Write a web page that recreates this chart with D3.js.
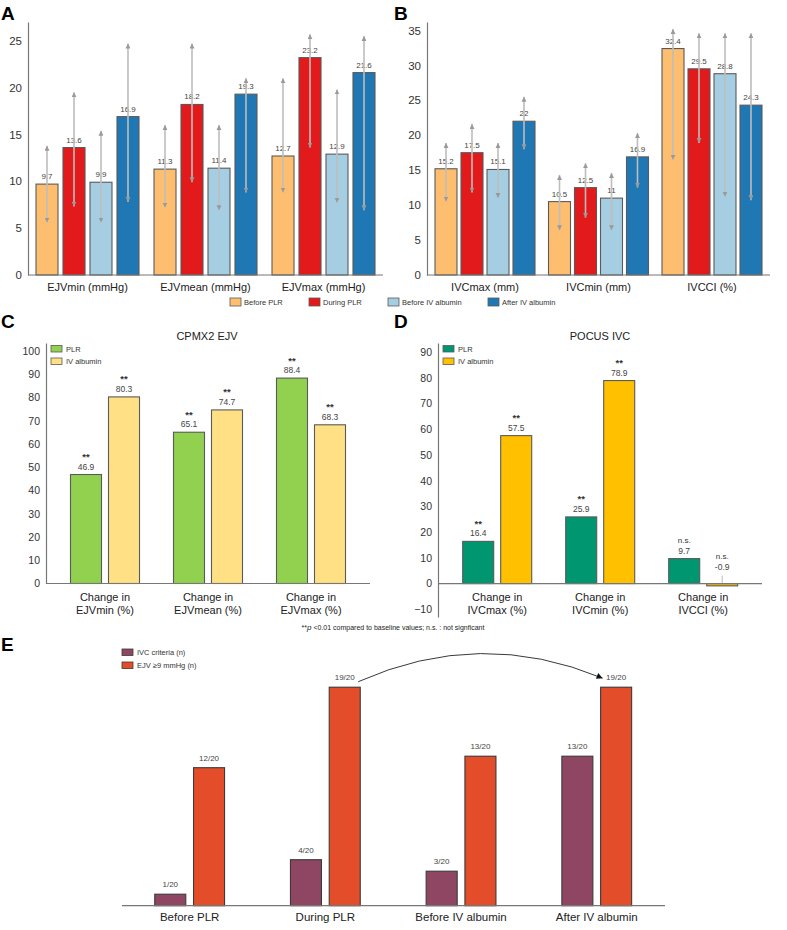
<!DOCTYPE html>
<html lang="en">
<head>
<meta charset="UTF-8">
<title>EJV and IVC measurements</title>
<script src="https://d3js.org/d3.v7.min.js"></script>
<style>
  body { margin: 0; background: #fff; }
  svg text { font-family: "Liberation Sans", Arial, sans-serif; }
</style>
</head>
<body>
<div id="chart"></div>
<script>
// ---- data ----
const abSeries = ["Before PLR", "During PLR", "Before IV albumin", "After IV albumin"];
const abColors = ["#fdbf6f", "#e31a1c", "#a6cee3", "#1f78b4"];

// Panel A: EJV (mmHg)
const aCats = ["EJVmin (mmHg)", "EJVmean (mmHg)", "EJVmax (mmHg)"];
const aMeans = [[9.7, 13.6, 9.9, 16.9], [11.3, 18.2, 11.4, 19.3], [12.7, 23.2, 12.9, 21.6]];
const aLow = [[5.6, 7.3, 5.6, 7.8], [7.2, 9.9, 6.9, 8.8], [8.8, 13.6, 7.7, 6.9]];
const aHigh = [[13.8, 19.5, 15.4, 24.7], [16.0, 24.7, 16.0, 21.0], [21.0, 25.7, 19.8, 25.5]];
const aTicks = [0, 5, 10, 15, 20, 25];

// Panel B: IVC
const bCats = ["IVCmax (mm)", "IVCmin (mm)", "IVCCI (%)"];
const bMeans = [[15.2, 17.5, 15.1, 22], [10.5, 12.5, 11, 16.9], [32.4, 29.5, 28.8, 24.3]];
const bLow = [[10.5, 11.8, 11.0, 18.0], [6.4, 8.2, 6.4, 12.5], [16.5, 18.9, 11.2, 10.7]];
const bHigh = [[18.9, 21.6, 18.9, 25.5], [14.3, 16.0, 14.6, 20.3], [35.2, 34.6, 34.6, 34.6]];
const bTicks = [0, 5, 10, 15, 20, 25, 30, 35];

// Panel C / D: change in %
const cdSeries = ["PLR", "IV albumin"];
const cCats = [["Change in", "EJVmin (%)"], ["Change in", "EJVmean (%)"], ["Change in", "EJVmax (%)"]];
const cValues = [[46.9, 80.3], [65.1, 74.7], [88.4, 68.3]];
const cSig = [["**", "**"], ["**", "**"], ["**", "**"]];
const cColors = ["#92d050", "#ffe084"];
const cTicks = d3.range(0, 101, 10);

const dCats = [["Change in", "IVCmax (%)"], ["Change in", "IVCmin (%)"], ["Change in", "IVCCI (%)"]];
const dValues = [[16.4, 57.5], [25.9, 78.9], [9.7, -0.9]];
const dSig = [["**", "**"], ["**", "**"], ["n.s.", "n.s."]];
const dColors = ["#009670", "#ffc000"];
const dTicks = d3.range(-10, 91, 10);

// Panel E: counts out of 20
const eCats = ["Before PLR", "During PLR", "Before IV albumin", "After IV albumin"];
const eSeries = ["IVC criteria (n)", "EJV \u22659 mmHg (n)"];
const eCounts = [[1, 12], [4, 19], [3, 13], [13, 19]];
const eColors = ["#8e4663", "#e34d2a"];

// ---- canvas ----
const svg = d3.select("#chart").append("svg")
    .attr("width", 787)
    .attr("height", 930);

const defs = svg.append("defs");
defs.append("marker")
    .attr("id", "errHead")
    .attr("viewBox", "0 0 10 10")
    .attr("refX", 10).attr("refY", 5)
    .attr("markerUnits", "userSpaceOnUse")
    .attr("markerWidth", 5).attr("markerHeight", 5)
    .attr("orient", "auto-start-reverse")
  .append("path")
    .attr("d", "M0,0L10,5L0,10z")
    .attr("fill", "#9a9a9a");
defs.append("marker")
    .attr("id", "curveHead")
    .attr("viewBox", "0 0 10 10")
    .attr("refX", 10).attr("refY", 5)
    .attr("markerUnits", "userSpaceOnUse")
    .attr("markerWidth", 7).attr("markerHeight", 6)
    .attr("orient", "auto")
  .append("path")
    .attr("d", "M0,0L10,5L0,10z")
    .attr("fill", "#111");

function panelLetter(letter, x, y) {
  svg.append("text")
      .attr("x", x).attr("y", y)
      .attr("font-size", 19)
      .attr("font-weight", "bold")
      .attr("fill", "#000")
      .text(letter);
}

function yAxis(y, ticks, x, fs) {
  const g = svg.append("g")
      .attr("transform", `translate(${x},0)`)
      .call(d3.axisLeft(y).tickValues(ticks).tickSize(0).tickPadding(6).tickSizeOuter(0));
  g.select(".domain").attr("stroke", "#777").attr("stroke-width", 1.2);
  g.selectAll("text").attr("font-size", fs).attr("fill", "#333");
  return g;
}

function hLine(x1, x2, yv) {
  svg.append("line")
      .attr("x1", x1).attr("x2", x2)
      .attr("y1", yv).attr("y2", yv)
      .attr("stroke", "#777").attr("stroke-width", 1.2);
}

// ---- Panel A and B: grouped bars with range arrows ----
function panelAB(cats, means, low, high, y, xRange, inner, outer) {
  const x0 = d3.scaleBand().domain(cats).range(xRange).padding(0);
  const x1 = d3.scaleBand().domain(abSeries).range([0, x0.bandwidth()])
      .paddingInner(inner).paddingOuter(outer);

  cats.forEach((c, ci) => {
    const g = svg.append("g").attr("transform", `translate(${x0(c)},0)`);
    const rows = abSeries.map((s, si) => ({s, si, v: means[ci][si], lo: low[ci][si], hi: high[ci][si]}));

    g.selectAll("rect").data(rows).join("rect")
        .attr("x", d => x1(d.s))
        .attr("y", d => y(d.v))
        .attr("width", x1.bandwidth())
        .attr("height", d => y(0) - y(d.v))
        .attr("fill", d => abColors[d.si])
        .attr("stroke", "#5a5a5a")
        .attr("stroke-width", 1.1);

    g.selectAll("text.val").data(rows).join("text")
        .attr("class", "val")
        .attr("x", d => x1(d.s) + x1.bandwidth() / 2)
        .attr("y", d => y(d.v) - 5)
        .attr("text-anchor", "middle")
        .attr("font-size", 8)
        .attr("fill", "#444")
        .text(d => d.v);

    g.selectAll("line.err").data(rows).join("line")
        .attr("class", "err")
        .attr("x1", d => x1(d.s) + x1.bandwidth() / 2)
        .attr("x2", d => x1(d.s) + x1.bandwidth() / 2)
        .attr("y1", d => y(d.lo))
        .attr("y2", d => y(d.hi))
        .attr("stroke", "#bdbdbd")
        .attr("stroke-width", 1.6)
        .attr("marker-start", "url(#errHead)")
        .attr("marker-end", "url(#errHead)");

    svg.append("text")
        .attr("x", x0(c) + x0.bandwidth() / 2)
        .attr("y", y(0) + 16)
        .attr("text-anchor", "middle")
        .attr("font-size", 11)
        .attr("fill", "#222")
        .text(c);
  });
}

const yA = d3.scaleLinear().domain([0, 27]).range([275, 22]);
panelLetter("A", 1, 20);
yAxis(yA, aTicks, 28, 11.5);
panelAB(aCats, aMeans, aLow, aHigh, yA, [28.5, 382.5], 0.185, 0.278);
hLine(28, 383, yA(0));

const yB = d3.scaleLinear().domain([0, 36.2]).range([275, 22]);
panelLetter("B", 394, 20);
yAxis(yB, bTicks, 427, 11.5);
panelAB(bCats, bMeans, bLow, bHigh, yB, [428.25, 768.75], 0.154, 0.26);
hLine(427, 770, yB(0));

// shared legend for A/B
const abLegX = [230, 309, 388, 488];
abSeries.forEach((s, i) => {
  svg.append("rect")
      .attr("x", abLegX[i]).attr("y", 298)
      .attr("width", 11).attr("height", 8)
      .attr("fill", abColors[i])
      .attr("stroke", "#5a5a5a").attr("stroke-width", 0.8);
  svg.append("text")
      .attr("x", abLegX[i] + 14).attr("y", 305)
      .attr("font-size", 7.5)
      .attr("fill", "#333")
      .text(s);
});

// ---- Panel C and D: percent change ----
function panelCD(cats, values, sig, colors, y, xRange, title, titleX) {
  const keys = cats.map(c => c[1]);
  const x0 = d3.scaleBand().domain(keys).range(xRange).padding(0);
  const x1 = d3.scaleBand().domain(cdSeries).range([0, x0.bandwidth()])
      .paddingInner(0.184).paddingOuter(0.447);

  svg.append("text")
      .attr("x", titleX).attr("y", 340)
      .attr("text-anchor", "middle")
      .attr("font-size", 11)
      .attr("fill", "#222")
      .text(title);

  cats.forEach((c, ci) => {
    const g = svg.append("g").attr("transform", `translate(${x0(c[1])},0)`);
    const rows = cdSeries.map((s, si) => ({s, si, v: values[ci][si], sig: sig[ci][si]}));

    g.selectAll("rect").data(rows).join("rect")
        .attr("x", d => x1(d.s))
        .attr("y", d => y(Math.max(0, d.v)))
        .attr("width", x1.bandwidth())
        .attr("height", d => Math.abs(y(d.v) - y(0)))
        .attr("fill", d => colors[d.si])
        .attr("stroke", "#5a5a5a")
        .attr("stroke-width", 1.1);

    // negative values get their label lifted above the baseline with a leader
    const labTop = d => d.v < 0 ? y(0) - 9 : y(d.v);
    g.selectAll("line.lead").data(rows.filter(d => d.v < 0)).join("line")
        .attr("class", "lead")
        .attr("x1", d => x1(d.s) + x1.bandwidth() / 2)
        .attr("x2", d => x1(d.s) + x1.bandwidth() / 2)
        .attr("y1", d => labTop(d) + 1)
        .attr("y2", y(0))
        .attr("stroke", "#aaa").attr("stroke-width", 0.8);

    g.selectAll("text.val").data(rows).join("text")
        .attr("class", "val")
        .attr("x", d => x1(d.s) + x1.bandwidth() / 2)
        .attr("y", d => labTop(d) - 5)
        .attr("text-anchor", "middle")
        .attr("font-size", 8.5)
        .attr("fill", "#444")
        .text(d => d.v);

    g.selectAll("text.sig").data(rows).join("text")
        .attr("class", "sig")
        .attr("x", d => x1(d.s) + x1.bandwidth() / 2)
        .attr("y", d => labTop(d) - (d.sig === "**" ? 14.5 : 15.5))
        .attr("text-anchor", "middle")
        .attr("font-size", d => d.sig === "**" ? 9.5 : 8)
        .attr("font-weight", d => d.sig === "**" ? "bold" : "normal")
        .attr("fill", "#333")
        .text(d => d.sig);

    const t = svg.append("text")
        .attr("x", x0(c[1]) + x0.bandwidth() / 2)
        .attr("y", 601)
        .attr("text-anchor", "middle")
        .attr("font-size", 11)
        .attr("fill", "#222");
    t.append("tspan").attr("x", x0(c[1]) + x0.bandwidth() / 2).text(c[0]);
    t.append("tspan").attr("x", x0(c[1]) + x0.bandwidth() / 2).attr("dy", 12.5).text(c[1]);
  });
}

function cdLegend(x, colors) {
  cdSeries.forEach((s, i) => {
    svg.append("rect")
        .attr("x", x).attr("y", 345.5 + i * 12.5)
        .attr("width", 11).attr("height", 6.5)
        .attr("fill", colors[i])
        .attr("stroke", "#5a5a5a").attr("stroke-width", 0.8);
    svg.append("text")
        .attr("x", x + 15).attr("y", 351.5 + i * 12.5)
        .attr("font-size", 7.5)
        .attr("fill", "#333")
        .text(s);
  });
}

const yC = d3.scaleLinear().domain([0, 103.5]).range([583.5, 343]);
panelLetter("C", 1, 328);
yAxis(yC, cTicks, 46, 10.5);
panelCD(cCats, cValues, cSig, cColors, yC, [53.5, 362.5], "CPMX2 EJV", 207);
hLine(46, 370, yC(0));
cdLegend(51, cColors);

const yD = d3.scaleLinear().domain([-13, 93.5]).range([617, 343]);
panelLetter("D", 394, 328);
yAxis(yD, dTicks, 438, 10.5);
panelCD(dCats, dValues, dSig, dColors, yD, [445.7, 754.7], "POCUS IVC", 600);
hLine(438, 762, yD(0));
cdLegend(443, dColors);

// footnote
const foot = svg.append("text")
    .attr("x", 393).attr("y", 630)
    .attr("text-anchor", "middle")
    .attr("font-size", 7)
    .attr("fill", "#222");
foot.append("tspan").text("**");
foot.append("tspan").attr("font-style", "italic").attr("font-size", 8).text("p");
foot.append("tspan").text(" <0.01 compared to baseline values; n.s. : not signficant");

// ---- Panel E ----
panelLetter("E", 1, 651);
const yE = d3.scaleLinear().domain([0, 20]).range([905.7, 675.7]);
const xE0 = d3.scaleBand().domain(eCats).range([121.8, 664.6]).padding(0);
const xE1 = d3.scaleBand().domain(eSeries).range([0, xE0.bandwidth()])
    .paddingInner(0.2).paddingOuter(0.85);

eCats.forEach((c, ci) => {
  const g = svg.append("g").attr("transform", `translate(${xE0(c)},0)`);
  const rows = eSeries.map((s, si) => ({s, si, v: eCounts[ci][si]}));
  g.selectAll("rect").data(rows).join("rect")
      .attr("x", d => xE1(d.s))
      .attr("y", d => yE(d.v))
      .attr("width", xE1.bandwidth())
      .attr("height", d => yE(0) - yE(d.v))
      .attr("fill", d => eColors[d.si])
      .attr("stroke", "#3a3a3a")
      .attr("stroke-width", 1.1);
  g.selectAll("text").data(rows).join("text")
      .attr("x", d => xE1(d.s) + xE1.bandwidth() / 2)
      .attr("y", d => yE(d.v) - 7)
      .attr("text-anchor", "middle")
      .attr("font-size", 8)
      .attr("fill", "#444")
      .text(d => `${d.v}/20`);
  svg.append("text")
      .attr("x", xE0(c) + xE0.bandwidth() / 2)
      .attr("y", 921)
      .attr("text-anchor", "middle")
      .attr("font-size", 11.5)
      .attr("fill", "#222")
      .text(c);
});
hLine(122, 665, yE(0));

eSeries.forEach((s, i) => {
  svg.append("rect")
      .attr("x", 122).attr("y", 649 + i * 13)
      .attr("width", 11).attr("height", 6.5)
      .attr("fill", eColors[i])
      .attr("stroke", "#3a3a3a").attr("stroke-width", 0.8);
  svg.append("text")
      .attr("x", 137).attr("y", 655 + i * 13)
      .attr("font-size", 7.5)
      .attr("fill", "#333")
      .text(s);
});

// curved arrow from "During PLR" EJV bar to "After IV albumin" EJV bar
const sx = xE0("During PLR") + xE1(eSeries[1]) + xE1.bandwidth() - 2;
const ex = xE0("After IV albumin") + xE1(eSeries[1]) + 2;
const curve = d3.path();
curve.moveTo(sx, yE(19) - 5.5);
curve.quadraticCurveTo((sx + ex) / 2, yE(19) - 60, ex, yE(19) - 9);
svg.append("path")
    .attr("d", curve.toString())
    .attr("fill", "none")
    .attr("stroke", "#222")
    .attr("stroke-width", 0.9)
    .attr("marker-end", "url(#curveHead)");
</script>
</body>
</html>
